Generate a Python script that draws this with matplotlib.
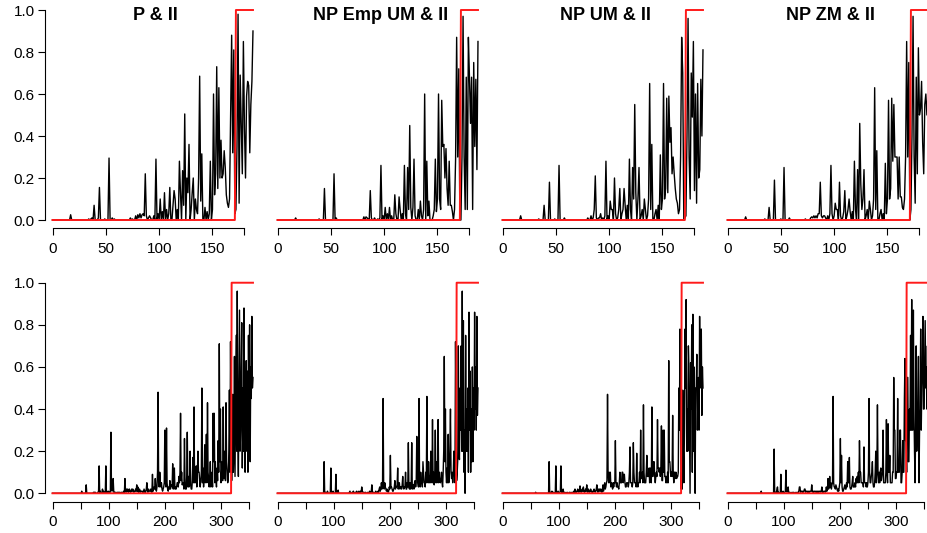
import numpy as np
import matplotlib.pyplot as plt

plt.rcParams['font.family'] = ['Liberation Sans', 'DejaVu Sans']

titles = ["P & II", "NP Emp UM & II", "NP UM & II", "NP ZM & II"]

# ---- top row: short sequence (t = 0..188), true state switches at 172 ----
truth_top = [0] * 172 + [1] * 17

p_ii_top = ([0] * 17 + [.025] + [0] * 16 +
            [.005, 0, .005, .01, 0, .07, 0, 0, 0, .01, .155, 0, 0, 0, 0, .005, 0, 0, 0, .295, 0, 0, .01, 0, .005] +
            [0] * 14 +
            [.01, 0, .005, 0, 0, .02, 0, .025, .01, .03,
             .01, .025, .03, .02, .22, .02, 0, .01, .02, .01,
             0, 0, .02, 0, .29, 0, .03, 0, .1, 0,
             .04, 0, .13, 0, .05, 0, .03, .155, 0, 0,
             .07, .14, .1, 0, .05, 0, .28, .13, 0, .235,
             .07, .505, 0, .2, .13, .36, 0, .05, .13, .2,
             0, .1, .05, .03, .2, .685, .09, .315, 0, 0,
             .06, 0, .04, 0, .03, .28, 0, .05, .6, .12,
             .22, .73, .15, .63, .2, .38, .2, .22, .33, .25,
             .12, .08, .06, .1, .5, .88, .32, .81, .03, .05,
             .35, .98, .08, .69, .45, .22, .85, .44, .2, .59,
             .66, .64, .32, .55, .66, .9])

np_emp_um_top = ([0] * 17 + [.01] + [0] * 21 + [.005] + [0] * 4 + [.15] + [0] * 8 + [.22, 0, .01] + [0] * 25 +
                 [.015, 0, .015, .01, .005, 0, .14, .01, 0, 0, .01, 0] +
                 [0, .005, 0, .01, .26, 0, .02, 0, .06, 0,
                  .03, 0, .06, 0, .02, 0, 0, .12, .03, 0,
                  0, .11, .05, 0, .03, 0, .26, .03, 0, .25,
                  .05, .45, .06, 0, .06, .29, .02, 0, 0, .05,
                  0, .09, .02, 0, .05, .6, 0, .28, .02, .09,
                  0, 0, 0, .02, .05, .29, .04, .1, .6, .1,
                  .05, .57, .35, .36, .2, .34, .15, .07, .28, .07,
                  .07, .04, 0, .05, .29, .87, .3, .72, 0, 0,
                  .3, .97, .3, .05, .68, .05, .87, .68, .46, .68,
                  .05, .75, .35, .67, .24, .85])

np_um_top = ([0] * 17 + [.02] + [0] * 16 + [.005] + [0] * 4 + [.07] + [0] * 4 + [.18] + [0] * 4 + [.005] +
             [0] * 3 + [.26] + [0] * 4 + [.01] + [0] * 21 +
             [.01, 0, 0, .02, 0, .01, .05, .21, .01, 0, .01, .01, .03] +
             [0, .01, 0, .02, .28, 0, .02, 0, .09, .05,
              .05, 0, .2, .03, 0, .01, .05, .15, 0, .03,
              .05, .15, .07, 0, .07, 0, .29, .05, 0, .25,
              .1, .55, .13, 0, .1, .25, 0, .02, .05, 0,
              .1, .05, 0, .02, .1, .65, .05, .36, 0, 0,
              .03, .05, 0, .07, 0, .31, .05, .1, .65, .1,
              .15, .58, .13, .59, .37, .44, .22, .3, .22, .15,
              .1, .08, .03, .05, .3, .87, .7, 0, .01, .02,
              .4, .96, .3, .1, .7, .49, .85, .14, .6, .08,
              .65, .2, .24, .67, .4, .81])

np_zm_top = ([0] * 17 + [.015] + [0] * 17 + [.005] + [0] * 3 + [.06] + [0] * 4 + [.19] + [0] * 5 + [.005] +
             [0] * 2 + [.25] + [0] * 4 + [.01] + [0] * 14 + [.005] + [0] * 4 +
             [.01, .015, .01, .02, .01, .02, .01, .03, .03, .18, .02, .01, .02, .02, .01] +
             [0, .02, 0, .03, .26, .03, 0, .02, .08, .05,
              .05, 0, .18, .02, 0, .01, .04, .14, 0, .02,
              .05, .1, .04, 0, .04, 0, .28, .05, 0, .24,
              0, .46, .17, .05, .1, .24, 0, .02, .05, 0,
              .09, .05, 0, .02, .1, .63, .05, .33, 0, 0,
              .03, .05, 0, .03, 0, .27, .03, .1, .57, .1,
              .15, .58, .28, .55, .3, .3, .3, .1, .3, .11,
              .11, .06, .05, .1, .3, .85, .3, .75, 0, .05,
              .4, .97, .3, .08, .68, .22, .82, .5, .53, .66,
              .37, .22, .55, .6, .5, .6])

# ---- bottom row: long sequence (t = 0..357), true state switches at 319 ----
truth_bot = [0] * 319 + [1] * 39

p_ii_bot = ([0] * 52 + [.01] + [0] * 7 + [.04] + [0] * 12 +
            [.005, 0, .005, .005, 0, 0, 0, 0, .005, .01] + [.13] +
            [0, .01, 0, 0, .005, .02, 0, .01, 0, 0, .005] + [.13] +
            [0, .01, 0, .005, .01, .005, 0, .01] + [.29] +
            [.02, .01, .02, .07, .01, 0, .005, 0] +
            [.005, 0, 0, .005, 0, .005, 0, .005, 0, 0, .005, 0, .005, 0, .01, .005] + [.07] +
            [.01, .005, .02, .01, .02, .005, .01, .02, .01, .005, .01, .02, .01, .02, .01, .005, .01, .01, .02, .01] +
            [.04] +
            [.01, .03, .005, .01, .02, .005, .01, .01, .01, .005, .01, .005, .02, .01, 0, .01, .02] + [.05] +
            [.01, .005, .02, .01, .01, .01, .02, .01, .005] + [.09] +
            [.01, .02, .03, .02, .07, .02, .01, .03, .1] + [.48] +
            [.05, .03, .1, .05, .03, .05, .02, .01, .02, .03, .05] +
            [.3, .05, .03, .31, .05, .02, .01, .03, .02, .06,
             .02, .04, .04, .03, .14, .02, .05, .12, .02, .03,
             .02, .03, .05, .05, .03, .08, .05, .1, .38, .06,
             .1, .04, .05, .05, .02, .26, .05, .02, .02, .08,
             .29, .03, .08, .03, .05, .2, .04, .02, .02, .06,
             .17, .05, .41, .05, .1, .05, .13, .03, .1, .2,
             .1, .1, .06, .03, .06, .1, .5, .05, .12, .03,
             .08, .23, .05, .12, .28, .05, .43, .1, .07, .03,
             .07, .15, .03, .05, .1, .03, .38, .15, .38, .05,
             .15, .07, .03, .12, .06, .25, .1, .71, .15, .4,
             .05, .1, .15, .06, .41, .1, .07, .2, .06, .43,
             .15, .1, .05, .07, .2, .49, .1, .72, .3, .06,
             .2, .47, .1, .2, .65, .08, .4, .75, .2, .96,
             .3, .08, .5, .87, .2, .3, .6, .81, .12, .5,
             .2, .88, .3, .1, .45, .63, .2, .58, .1, .75,
             .3, .8, .15, .6, .45, .84, .5, .55])

np_emp_um_bot = ([0] * 83 + [.15] +
                 [0, 0, .005, 0, 0, .01, 0, 0, 0, 0, .005] + [.12] +
                 [0, 0, 0, .01, 0, 0, 0, .005] + [.09] +
                 [0, .01, .005, .015, 0, 0, 0, 0] + [0] * 15 + [.005, .01] +
                 [0, 0, 0, .005, 0, .01, .005, 0, 0, .005, 0, .01, 0, 0, .005, .01, 0, .005, .01, .005] + [.03] +
                 [.01, .005, 0, .005, 0, 0, .005, 0, 0, 0, .005, 0, 0, .01, 0, 0, .01] + [.04] +
                 [.005, 0, .005, 0, 0, .005, .01, 0, .005, 0, .01, .005, .02, .03, .01, .02, .05, .02, .03] +
                 [.45] +
                 [.05, .02, .05, .03, .02, .01, .02, .01, .005, .01, .03] +
                 [.02, .18, .03, .03, .02, .01, .01, .02, .03, .06,
                  .02, .03, .03, .04, .12, .02, .05, .05, .02, .03,
                  .03, .02, .04, .08, .03, .02, .03, .03, .1, .02,
                  .02, .05, .03, .24, .03, .02, .05, .02, .03, .24,
                  .02, .03, .04, .02, .05, .06, .03, .05, .27, .1,
                  .05, .03, .45, .05, .03, .1, .05, .05, .03, .15,
                  .1, .05, .05, .03, .1, .05, .46, .1, .05, .15,
                  .05, .08, .05, .2, .1, .05, .35, .05, .1, .04,
                  .08, .3, .05, .15, .05, .1, .35, .05, .1, .06,
                  .05, .06, .1, .05, .03, .1, .2, .65, .15, .4,
                  .1, .05, .12, .05, .28, .05, .09, .2, .4, .1,
                  .07, .1, .05, .09, .2, .1, .05, .72, .3, .06,
                  .1, .16, .7, .2, .16, .5, .3, .7, .2, .96,
                  .2, .82, .1, .3, 0, .75, .2, .4, .2, .5,
                  .1, .86, .3, .58, .1, .4, .15, .6, .15, .5,
                  .3, .86, .4, .6, .3, .84, .37, .5])

np_um_bot = ([0] * 59 + [.005] + [0] * 23 + [.15] +
             [0, 0, .005, 0, .01, 0, 0, .005, 0, 0, .005] + [.13] +
             [0, 0, .005, .01, 0, 0, .005, .01] + [.13] +
             [.01, 0, .005, .02, 0, 0, .005, 0] +
             [0, 0, .005, 0, 0, 0, .005, 0, 0, .005, 0, 0, .005, 0, .01, .005] + [.02] +
             [.005, .01, .005, .01, .02, .01, .005, .01, .035, .01, .005, .01, .02, .01, .03, .01, .005, .01, .02, .01] +
             [.04] +
             [.01, .005, .02, .01, .005, .01, .02, .01, .005, .01, .005, .01, .02, .01, .005, .01, .02] + [.04] +
             [.01, .005, .02, .01, .02, .01, .02, .01, .005, .02, .04, .01, .03, .05, .02, .03, .05, .06] + [.47] +
             [.1, .05, .1, .05, .1, .03, .05, .04, .02, .05, .03, .05] +
             [.05, .25, .05, .03, .05, .03, .03, .02, .05, .1,
              .05, .05, .05, .1, .1, .05, .09, .09, .05, .03,
              .03, .05, .05, .05, .03, .05, .1, .22, .05, .05,
              .05, .03, .05, .24, .1, .05, .05, .05, .03, .19,
              .05, .03, .05, .05, .1, .05, .3, .07, .07, .1,
              .05, .42, .1, .05, .05, .05, .1, .18, .08, .08,
              .08, .12, .05, .12, .08, .05, .41, .08, .08, .15,
              .15, .08, .05, .08, .1, .08, .35, .12, .12, .1,
              .12, .08, .12, .32, .06, .06, .3, .1, .3, .08,
              .08, .05, .08, .05, .1, .05, .63, .15, .15, .1,
              .08, .1, .08, .37, .1, .05, .1, .1, .07, .1,
              .07, .08, .08, .1, .5, .3, .78, .4, .02, .1,
              .02, .49, .2, .05, .3, .78, .5, .92, .2, .4,
              .2, .7, .6, .3, 0, .62, .4, .8, .1, .85,
              .2, .6, .2, 0, .5, .5, .66, .3, .45, .55,
              .3, .84, .5, .6, .78, .37, .6, .5])

np_zm_bot = ([0] * 60 + [.01] + [0] * 22 + [.21] +
             [0, .005, 0, 0, .02, .03, 0, .005, 0, 0, .005] + [.09] +
             [0, .005, 0, .01, 0, 0, .005, .01] + [.11] +
             [.01, .005, .01, .03, 0, 0, .005, 0] +
             [0, 0, .005, 0, 0, .005, 0, 0, 0, .005, 0, 0, .005, 0, .01, .03] + [.03] +
             [.005, .01, .01, .005, .01, .005, .01, .02, .02, .005, .01, .01, .005, .01, .005, .01, .005, .01, .01, .01] +
             [.04] +
             [.01, .005, .01, .005, .01, .01, .005, .01, .005, .01, .005, .01, .005, .01, .01, .005, .01] + [.03] +
             [.005, .01, .005, .01, .01, .005, .01, .03, .01, .02, .07, .02, .03, .08, .03, .05, .02, .04, .05] +
             [.46] +
             [.05, .03, .03, .02, .04, .03, .02, .01, .02, .01, .03] +
             [.05, .26, .05, .18, .03, .01, .01, .02, .03, .04,
              .02, .02, .05, .03, .15, .05, .05, .17, .03, .02,
              .02, .03, .05, .08, .03, .03, .03, .05, .03, .07,
              .05, .08, .05, .1, .05, .25, .1, .1, .05, .05,
              .05, .05, .03, .22, .05, .05, .05, .03, .05, .03,
              .05, .1, .45, .1, .05, .05, .08, .1, .15, .05,
              .03, .03, .05, .1, .2, .05, .1, .42, .1, .05,
              .1, .05, .1, .12, .06, .08, .1, .3, .05, .05,
              .05, .05, .1, .35, .1, .05, .33, .1, .1, .18,
              .05, .05, .05, .05, .1, .1, .55, .3, .3, .07,
              .07, .1, .1, .45, .1, .1, .1, .3, .3, .05,
              .05, .1, .25, .1, .1, .45, .64, .25, .25, .1,
              .55, .55, .15, .15, .4, .3, .75, .3, .92, .3,
              .3, .87, .4, .2, .05, .3, .7, .2, .3, .4,
              .65, .05, .3, .4, .78, .3, .5, .6, .84, .4,
              .4, .6, .82, .5, .6, .4, .7, .5])

top_series = [p_ii_top, np_emp_um_top, np_um_top, np_zm_top]
bot_series = [p_ii_bot, np_emp_um_bot, np_um_bot, np_zm_bot]

top_ticks = [0, 50, 100, 150, 180]
top_ticklabels = ["0", "50", "100", "150", ""]
bot_ticks = [0, 50, 100, 150, 200, 250, 300, 350]
bot_ticklabels = ["0", "", "100", "", "200", "", "300", ""]

W, H = 927, 533
fig = plt.figure(figsize=(W / 100, H / 100), dpi=100)

rows = [
    # (series, truth, ticks, labels, axis end, top px, bottom px)
    (top_series, truth_top, top_ticks, top_ticklabels, 180, 1.6, 228.4),
    (bot_series, truth_bot, bot_ticks, bot_ticklabels, 350, 274.3, 501.7),
]

for r, (series, truth, ticks, labels, xend, ptop, pbot) in enumerate(rows):
    for c in range(4):
        left = 44.5 + 225 * c
        ax = fig.add_axes([left / W, 1 - pbot / H, 216.5 / W, (pbot - ptop) / H])
        ax.patch.set_alpha(0)
        y = np.array(series[c])
        x = np.arange(len(y))
        tr = np.array(truth)
        ax.plot(x, y, color="black", lw=1.0, zorder=2)
        ax.plot(np.arange(len(tr)), tr, color="#ff1a1a", lw=1.4, zorder=3)

        n = len(truth) - 1
        ax.set_xlim(-0.04 * n, n * 1.04)
        ax.set_ylim(-0.04, 1.04)

        for s in ["top", "right"]:
            ax.spines[s].set_visible(False)
        ax.spines["bottom"].set_bounds(0, xend)
        ax.spines["bottom"].set_linewidth(0.8)
        ax.set_xticks(ticks)
        ax.set_xticklabels(labels)
        ax.tick_params(axis="x", direction="out", length=5, width=0.8, pad=4.5, labelsize=11)

        if c == 0:
            ax.spines["left"].set_bounds(0, 1)
            ax.spines["left"].set_linewidth(0.8)
            ax.set_yticks([0, 0.2, 0.4, 0.6, 0.8, 1.0])
            ax.set_yticklabels(["0.0", "0.2", "0.4", "0.6", "0.8", "1.0"])
            ax.tick_params(axis="y", direction="out", length=5, width=0.8, pad=2, labelsize=11)
        else:
            ax.spines["left"].set_visible(False)
            ax.set_yticks([])

        if r == 0:
            ax.text(0.514, (pbot - 15) / (pbot - ptop), titles[c], transform=ax.transAxes,
                    ha="center", va="center", fontsize=13, fontweight="bold")

fig.savefig("out.png", dpi=100)
